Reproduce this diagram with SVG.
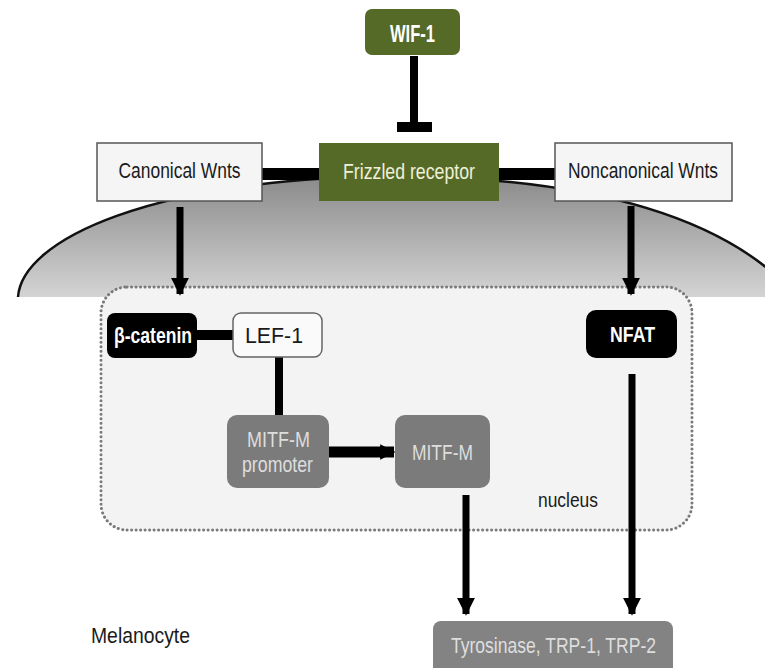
<svg xmlns="http://www.w3.org/2000/svg" width="765" height="668" viewBox="0 0 765 668">
  <defs>
    <linearGradient id="cyto" x1="0" y1="176" x2="0" y2="297" gradientUnits="userSpaceOnUse">
      <stop offset="0" stop-color="#8a8a8a"/>
      <stop offset="1" stop-color="#d4d4d4"/>
    </linearGradient>
    <marker id="arr" viewBox="0 0 10 10" refX="9" refY="5" markerWidth="2.6" markerHeight="2.6" orient="auto" markerUnits="strokeWidth">
      <path d="M0,0 L10,5 L0,10 Z" fill="#000"/>
    </marker>
    <marker id="arrB" viewBox="0 0 10 10" refX="9" refY="5" markerWidth="1.4" markerHeight="2" orient="auto" markerUnits="strokeWidth">
      <path d="M0,0 L10,5 L0,10 Z" fill="#000"/>
    </marker>
  </defs>
  <style>
    text { font-family: "Liberation Sans", Arial, sans-serif; text-anchor: middle; }
    .wbox { fill: #f5f5f5; stroke: #555; stroke-width: 1.5; }
    .olive { fill: #566a28; }
    .blk { fill: #000; }
    .gry { fill: #7b7b7b; }
    .lt { fill: #eef0d8; }
    .dk { fill: #1a1a1a; }
    .wb { fill: #fff; font-weight: bold; }
    .gt { fill: #dedede; }
    .bar { stroke: #000; fill: none; }
  </style>

  <rect width="765" height="668" fill="#fff"/>

  <!-- cell membrane / cytoplasm -->
  <g id="cytoplasm">
    <path d="M18,297 C22,240 150,178 400,176 C560,178 720,205 800,300 L800,297 Z" fill="url(#cyto)"/>
    <path d="M18,297 C22,240 150,178 400,176 C560,178 720,205 800,300" fill="none" stroke="#111" stroke-width="2.5"/>
  </g>

  <!-- nucleus -->
  <g id="nucleus">
    <rect x="101" y="287" width="591" height="243" rx="26" fill="#f3f3f3" stroke="#7a7a7a" stroke-width="3" stroke-dasharray="0.1 4.4" stroke-linecap="round"/>
    <text class="dk" x="568" y="507" font-size="21" textLength="60" lengthAdjust="spacingAndGlyphs">nucleus</text>
  </g>

  <!-- connectors -->
  <g id="connectors">
    <line class="bar" x1="414" y1="56" x2="414" y2="124" stroke-width="8"/>
    <line class="bar" x1="397" y1="127" x2="432" y2="127" stroke-width="10"/>
    <line class="bar" x1="262" y1="174" x2="320" y2="174" stroke-width="12"/>
    <line class="bar" x1="498" y1="174" x2="556" y2="174" stroke-width="12"/>
    <line class="bar" x1="180" y1="207" x2="180" y2="294" stroke-width="7" marker-end="url(#arr)"/>
    <line class="bar" x1="631" y1="206" x2="631" y2="294" stroke-width="7" marker-end="url(#arr)"/>
    <line class="bar" x1="197" y1="335" x2="234" y2="335" stroke-width="10"/>
    <line class="bar" x1="279" y1="357" x2="279" y2="415" stroke-width="8"/>
    <line class="bar" x1="329" y1="452" x2="394" y2="452" stroke-width="11" marker-end="url(#arrB)"/>
    <line class="bar" x1="466" y1="495" x2="466" y2="614" stroke-width="7" marker-end="url(#arr)"/>
    <line class="bar" x1="632" y1="374" x2="632" y2="614" stroke-width="7" marker-end="url(#arr)"/>
  </g>

  <g id="wif1">
    <rect class="olive" x="365" y="9" width="95" height="46" rx="7"/>
    <text class="wb" x="412.5" y="42" font-size="23" textLength="45" lengthAdjust="spacingAndGlyphs">WIF-1</text>
  </g>

  <g id="frizzled">
    <rect class="olive" x="319" y="143" width="180" height="58"/>
    <text class="lt" x="409" y="179" font-size="22" textLength="132" lengthAdjust="spacingAndGlyphs">Frizzled receptor</text>
  </g>

  <g id="canonical">
    <rect class="wbox" x="97" y="143" width="165" height="58"/>
    <text class="dk" x="179.5" y="178" font-size="22" textLength="122" lengthAdjust="spacingAndGlyphs">Canonical Wnts</text>
  </g>

  <g id="noncanonical">
    <rect class="wbox" x="555" y="143" width="177" height="58"/>
    <text class="dk" x="643" y="178" font-size="22" textLength="150" lengthAdjust="spacingAndGlyphs">Noncanonical Wnts</text>
  </g>

  <g id="betacatenin">
    <rect class="blk" x="107" y="313" width="90" height="45" rx="8"/>
    <text class="wb" x="153" y="343" font-size="22" textLength="78" lengthAdjust="spacingAndGlyphs">β-catenin</text>
  </g>

  <g id="lef1">
    <rect x="233" y="313" width="89" height="44" rx="8" fill="#fafafa" stroke="#666" stroke-width="1.5"/>
    <text class="dk" x="274" y="343" font-size="22" textLength="58" lengthAdjust="spacingAndGlyphs">LEF-1</text>
  </g>

  <g id="mitf-promoter">
    <rect class="gry" x="227" y="415" width="102" height="73" rx="10"/>
    <text class="gt" x="278.5" y="447" font-size="22" textLength="63" lengthAdjust="spacingAndGlyphs">MITF-M</text>
    <text class="gt" x="277.5" y="472" font-size="22" textLength="71" lengthAdjust="spacingAndGlyphs">promoter</text>
  </g>

  <g id="mitf">
    <rect class="gry" x="395" y="415" width="95" height="73" rx="10"/>
    <text class="gt" x="442.5" y="460" font-size="22" textLength="61" lengthAdjust="spacingAndGlyphs">MITF-M</text>
  </g>

  <g id="nfat">
    <rect class="blk" x="586" y="310" width="91" height="48" rx="10"/>
    <text class="wb" x="632.5" y="342" font-size="22" textLength="45" lengthAdjust="spacingAndGlyphs">NFAT</text>
  </g>

  <g id="tyrosinase">
    <rect x="433" y="621" width="240" height="56" rx="8" fill="#838383"/>
    <text class="gt" x="553.5" y="653" font-size="22" textLength="205" lengthAdjust="spacingAndGlyphs">Tyrosinase, TRP-1, TRP-2</text>
  </g>

  <g id="melanocyte">
    <text class="dk" x="140.5" y="643" font-size="22" textLength="99" lengthAdjust="spacingAndGlyphs">Melanocyte</text>
  </g>
</svg>
